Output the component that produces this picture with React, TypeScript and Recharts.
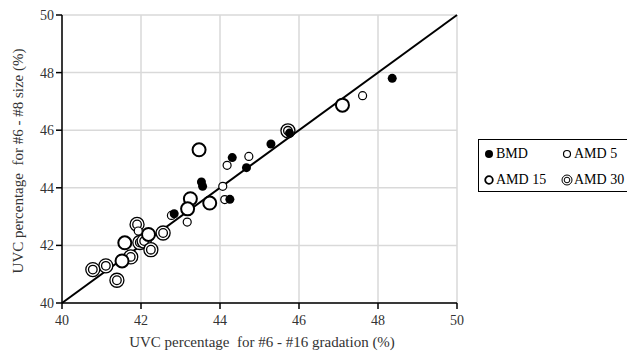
import React from 'react';
import { ScatterChart, Scatter, XAxis, YAxis, CartesianGrid, ReferenceLine } from 'recharts';

const axisTicks = [40, 42, 44, 46, 48, 50];

const bmdX = [48.36, 45.29, 45.76, 44.67, 44.31, 43.53, 43.56, 44.25, 42.84];
const bmdY = [47.8, 45.52, 45.9, 44.7, 45.05, 44.2, 44.05, 43.6, 43.1];

const amd5X = [47.61, 44.73, 44.18, 44.07, 44.12, 42.77, 43.17, 41.93];
const amd5Y = [47.2, 45.09, 44.78, 44.05, 43.59, 43.04, 42.81, 42.5];

const amd15X = [47.1, 43.47, 43.25, 43.74, 43.18, 42.19, 41.59, 41.52];
const amd15Y = [46.87, 45.32, 43.62, 43.47, 43.27, 42.38, 42.09, 41.46];

const amd30X = [45.72, 42.56, 41.9, 41.97, 42.08, 42.25, 41.74, 41.11, 40.78, 41.39];
const amd30Y = [45.98, 42.43, 42.73, 42.1, 42.15, 41.85, 41.6, 41.29, 41.16, 40.79];

const zip = (xs: number[], ys: number[]) => xs.map((x, i) => ({ x, y: ys[i] }));

const font = '"Liberation Serif", "Times New Roman", serif';

const BmdShape = (p: any) => <circle cx={p.cx} cy={p.cy} r={4.5} fill="#000" />;
const Amd5Shape = (p: any) => <circle cx={p.cx} cy={p.cy} r={4} fill="#fff" stroke="#000" strokeWidth={1.2} />;
const Amd15Shape = (p: any) => <circle cx={p.cx} cy={p.cy} r={6.5} fill="#fff" stroke="#000" strokeWidth={2} />;
const Amd30Shape = (p: any) => (
  <g>
    <circle cx={p.cx} cy={p.cy} r={7} fill="#fff" stroke="#000" strokeWidth={1.3} />
    <circle cx={p.cx} cy={p.cy} r={4.3} fill="none" stroke="#000" strokeWidth={1.3} />
  </g>
);

const XTick = (p: any) => (
  <text x={p.x} y={p.y + 14} textAnchor="middle" fontFamily={font} fontSize={14} fill="#333">
    {p.payload.value}
  </text>
);
const YTick = (p: any) => (
  <text x={p.x} y={p.y + 5} textAnchor="end" fontFamily={font} fontSize={14} fill="#333">
    {p.payload.value}
  </text>
);

const legendItems = [
  { name: 'BMD', icon: <circle cx={6} cy={6} r={4} fill="#000" /> },
  { name: 'AMD 5', icon: <circle cx={6} cy={6} r={3.5} fill="#fff" stroke="#000" strokeWidth={1.2} /> },
  { name: 'AMD 15', icon: <circle cx={6} cy={6} r={3.8} fill="#fff" stroke="#000" strokeWidth={1.8} /> },
  {
    name: 'AMD 30',
    icon: (
      <g>
        <circle cx={6} cy={6} r={5} fill="#fff" stroke="#000" strokeWidth={1} />
        <circle cx={6} cy={6} r={2.8} fill="none" stroke="#000" strokeWidth={1} />
      </g>
    ),
  },
];

const LegendBox = () => (
  <div
    style={{
      position: 'absolute',
      left: 478,
      top: 139,
      width: 150,
      height: 53,
      border: '1px solid #000',
      boxSizing: 'border-box',
      fontFamily: font,
      fontSize: 14,
      color: '#000',
      display: 'grid',
      gridTemplateColumns: '78px 72px',
      padding: '5px 0 0 4px',
      rowGap: 6,
      background: '#fff',
    }}
  >
    {legendItems.map((it) => (
      <div key={it.name} style={{ display: 'flex', alignItems: 'center', height: 18 }}>
        <svg width={12} height={12} style={{ marginRight: 1 }}>
          {it.icon}
        </svg>
        <span>{it.name}</span>
      </div>
    ))}
  </div>
);

export default function App() {
  return (
    <div style={{ position: 'absolute', left: 0, top: 0, width: 627, height: 353, overflow: 'hidden', background: '#fff' }}>
      <ScatterChart
        width={627}
        height={353}
        margin={{ top: 15, right: 170, left: 22, bottom: 20 }}
        style={{ fontFamily: font }}
      >
        <CartesianGrid stroke="#d9d9d9" strokeWidth={1.5} />
        <XAxis
          type="number"
          dataKey="x"
          domain={[40, 50]}
          ticks={axisTicks}
          allowDataOverflow
          height={30}
          tickSize={6}
          stroke="#000"
          strokeWidth={1.5}
          tick={<XTick />}
        />
        <YAxis
          type="number"
          dataKey="y"
          domain={[40, 50]}
          ticks={axisTicks}
          allowDataOverflow
          width={40}
          tickSize={6}
          stroke="#000"
          strokeWidth={1.5}
          tick={<YTick />}
        />
        <Scatter name="AMD 30" data={zip(amd30X, amd30Y)} shape={Amd30Shape} isAnimationActive={false} />
        <Scatter name="AMD 15" data={zip(amd15X, amd15Y)} shape={Amd15Shape} isAnimationActive={false} />
        <Scatter name="AMD 5" data={zip(amd5X, amd5Y)} shape={Amd5Shape} isAnimationActive={false} />
        <Scatter name="BMD" data={zip(bmdX, bmdY)} shape={BmdShape} isAnimationActive={false} />
        <ReferenceLine
          segment={[{ x: 40, y: 40 }, { x: 50, y: 50 }]}
          stroke="#000"
          strokeWidth={2}
          ifOverflow="visible"
        />
        <text
          x={262}
          y={347}
          textAnchor="middle"
          style={{ fontFamily: font, fontSize: 15, fill: '#333', whiteSpace: 'pre' }}
        >
          UVC percentage  for #6 - #16 gradation (%)
        </text>
        <text
          x={0}
          y={0}
          transform="translate(23,161) rotate(-90)"
          textAnchor="middle"
          style={{ fontFamily: font, fontSize: 15, fill: '#333', whiteSpace: 'pre' }}
        >
          UVC percentage  for #6 - #8 size (%)
        </text>
      </ScatterChart>
      <LegendBox />
    </div>
  );
}
